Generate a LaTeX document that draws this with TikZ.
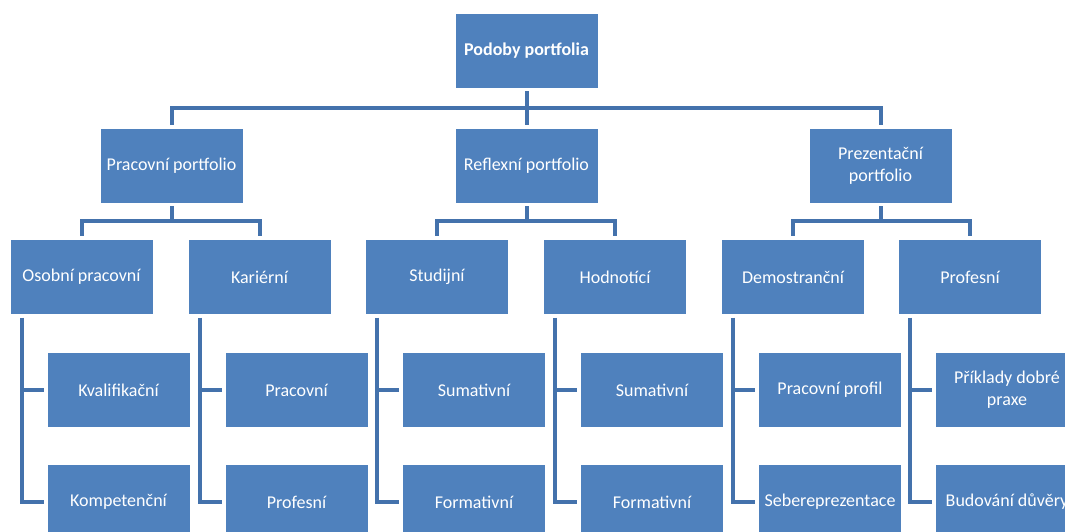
\documentclass[tikz,border=0pt]{standalone}
\usepackage{fontspec}
\setmainfont{Carlito}
\usetikzlibrary{positioning}
\definecolor{boxblue}{RGB}{79,129,189}
\definecolor{lineblue}{RGB}{68,114,172}

\begin{document}
\begin{tikzpicture}[squarebox/.style={rectangle,
					fill=boxblue,
					draw=white,
					line width=0.8pt,
					minimum width=143pt,
					minimum height=75pt,
					inner sep=2pt,
					align=center,
					text=white,
					font=\fontsize{18}{22}\selectfont},
					rootbox/.style={squarebox,
					font=\fontsize{18}{22}\selectfont\bfseries},
					conn/.style={lineblue,
					line width=4pt,
					shorten <=3pt,
					shorten >=3pt}
					]

% page size of the reference
\useasboundingbox (0,0) rectangle (1065pt,-531pt);

%top node
\node[rootbox]  (root) at (526.5pt,-50.5pt) {Podoby portfolia};

%second level
\node[squarebox]  (refl) [below of = root, node distance=115pt] {Reflexní portfolio};
\node[squarebox]  (prac) [left of = refl, node distance=355pt] {Pracovní portfolio};
\node[squarebox]  (prez) [right of = refl, node distance=354pt] {Prezentační\\portfolio};

%third level
\node[squarebox]  (osob) [below of = prac, node distance=111.5pt, xshift=-90pt] {Osobní pracovní};
\node[squarebox]  (kari) [below of = prac, node distance=111.5pt, xshift=88pt] {Kariérní};
\node[squarebox]  (stud) [below of = refl, node distance=111.5pt, xshift=-89.5pt] {Studijní};
\node[squarebox]  (hodn) [below of = refl, node distance=111.5pt, xshift=88.5pt] {Hodnotící};
\node[squarebox]  (demo) [below of = prez, node distance=111.5pt, xshift=-87.5pt] {Demostranční};
\node[squarebox]  (prof) [below of = prez, node distance=111.5pt, xshift=89.5pt] {Profesní};

%fourth level
\node[squarebox]  (kval) [below of = osob, node distance=113pt, xshift=37pt] {Kvalifikační};
\node[squarebox]  (komp) [below of = kval, node distance=112pt] {Kompetenční};
\node[squarebox]  (prac2) [below of = kari, node distance=113pt, xshift=37pt] {Pracovní};
\node[squarebox]  (prof2) [below of = prac2, node distance=112pt] {Profesní};
\node[squarebox]  (sum1) [below of = stud, node distance=113pt, xshift=37pt] {Sumativní};
\node[squarebox]  (form1) [below of = sum1, node distance=112pt] {Formativní};
\node[squarebox]  (sum2) [below of = hodn, node distance=113pt, xshift=37pt] {Sumativní};
\node[squarebox]  (form2) [below of = sum2, node distance=112pt] {Formativní};
\node[squarebox]  (pprof) [below of = demo, node distance=113pt, xshift=37pt] {Pracovní profil};
\node[squarebox]  (sebe) [below of = pprof, node distance=112pt] {Sebereprezentace};
\node[squarebox]  (prik) [below of = prof, node distance=113pt, xshift=37pt] {Příklady dobré\\praxe};
\node[squarebox]  (budo) [below of = prik, node distance=112pt] {Budování důvěry};

% Connectors top
\draw[conn] (root.south) -- ++(0,-20pt) -| (prac.north);
\draw[conn] (root.south) -- ++(0,-20pt) -| (refl.north);
\draw[conn] (root.south) -- ++(0,-20pt) -| (prez.north);

% Connectors second level
\draw[conn] (prac.south) -- ++(0,-18pt) -| (osob.north);
\draw[conn] (prac.south) -- ++(0,-18pt) -| (kari.north);
\draw[conn] (refl.south) -- ++(0,-18pt) -| (stud.north);
\draw[conn] (refl.south) -- ++(0,-18pt) -| (hodn.north);
\draw[conn] (prez.south) -- ++(0,-18pt) -| (demo.north);
\draw[conn] (prez.south) -- ++(0,-18pt) -| (prof.north);

% Connectors third level
\draw[conn] ([xshift=12pt]osob.south west) |- (kval.west);
\draw[conn] ([xshift=12pt]osob.south west) |- (komp.west);
\draw[conn] ([xshift=12pt]kari.south west) |- (prac2.west);
\draw[conn] ([xshift=12pt]kari.south west) |- (prof2.west);
\draw[conn] ([xshift=12pt]stud.south west) |- (sum1.west);
\draw[conn] ([xshift=12pt]stud.south west) |- (form1.west);
\draw[conn] ([xshift=12pt]hodn.south west) |- (sum2.west);
\draw[conn] ([xshift=12pt]hodn.south west) |- (form2.west);
\draw[conn] ([xshift=12pt]demo.south west) |- (pprof.west);
\draw[conn] ([xshift=12pt]demo.south west) |- (sebe.west);
\draw[conn] ([xshift=12pt]prof.south west) |- (prik.west);
\draw[conn] ([xshift=12pt]prof.south west) |- (budo.west);

\end{tikzpicture}
\end{document}
